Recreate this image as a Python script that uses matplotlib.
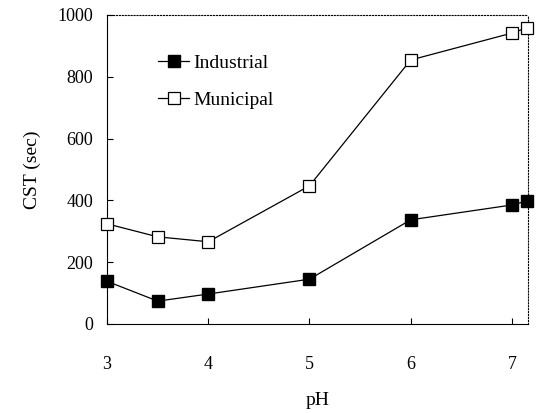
import matplotlib
matplotlib.use('Agg')
import matplotlib.pyplot as plt

ph = [3, 3.5, 4, 5, 6, 7, 7.15]
industrial = [138, 74, 97, 145, 337, 385, 398]
municipal = [324, 282, 266, 447, 854, 941, 958]

plt.rcParams['font.family'] = ['Liberation Serif', 'DejaVu Serif']

fig = plt.figure(figsize=(5.41, 4.13), dpi=100)
ax = fig.add_axes([0.198, 0.2155, 0.778, 0.7485])

ax.plot(ph, industrial, color='black', lw=0.9, marker='s', ms=8,
        mfc='black', mec='black', label='Industrial', clip_on=False, zorder=3)
ax.plot(ph, municipal, color='black', lw=0.9, marker='s', ms=8,
        mfc='white', mec='black', mew=0.9, label='Municipal', clip_on=False, zorder=3)

ax.set_xlim(3, 7.16)
ax.set_ylim(0, 1000)
ax.set_xticks([3, 4, 5, 6, 7])
ax.set_yticks([0, 200, 400, 600, 800, 1000])
ax.tick_params(direction='in', labelsize=13, length=4)
ax.tick_params(axis='x', pad=23)
ax.tick_params(axis='y', pad=10)
ax.spines['top'].set_linestyle(':')
ax.spines['right'].set_linestyle(':')
for s in ax.spines.values():
    s.set_linewidth(0.8)

ax.set_xlabel('pH', fontsize=14, labelpad=14)
ax.set_ylabel('CST (sec)', fontsize=14, labelpad=12)

ax.legend(loc='upper left', bbox_to_anchor=(0.08, 0.93), frameon=False,
          fontsize=14, handlelength=1.6, handletextpad=0.2, labelspacing=1.0,
          markerscale=1)

fig.savefig('out.png', dpi=100)
